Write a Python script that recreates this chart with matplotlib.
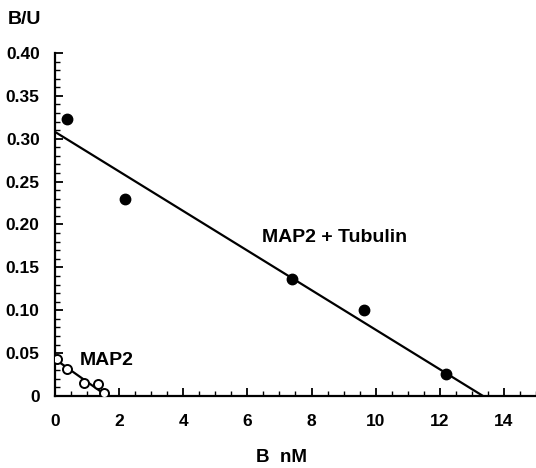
import numpy as np
import matplotlib
matplotlib.use("Agg")
import matplotlib.pyplot as plt
from matplotlib.ticker import MultipleLocator, FixedLocator

plt.rcParams['font.family'] = ['Liberation Sans', 'DejaVu Sans']
plt.rcParams['font.weight'] = 'bold'

# MAP2 + Tubulin (filled circles)
tub_b = [0.37, 2.18, 7.38, 9.63, 12.2]
tub_bu = [0.323, 0.230, 0.136, 0.100, 0.026]
tub_fit_b = [0.0, 13.35]
tub_fit_bu = [0.308, 0.0]

# MAP2 alone (open circles)
map2_b = [0.07, 0.37, 0.9, 1.33, 1.53]
map2_bu = [0.043, 0.031, 0.015, 0.014, 0.004]
map2_fit_b = [0.0, 1.55]
map2_fit_bu = [0.043, 0.002]

x_ticks = [0, 2, 4, 6, 8, 10, 12, 14]
y_ticks = [0, 0.05, 0.10, 0.15, 0.20, 0.25, 0.30, 0.35, 0.40]
y_labels = ['0', '0.05', '0.10', '0.15', '0.20', '0.25', '0.30', '0.35', '0.40']

fig = plt.figure(figsize=(5.36, 4.68), dpi=100)
ax = fig.add_axes([0.1026, 0.1538, 0.8974, 0.733])

ax.plot(tub_fit_b, tub_fit_bu, color='black', lw=1.6, zorder=2)
ax.plot(map2_fit_b, map2_fit_bu, color='black', lw=1.6, zorder=2)
ax.plot(tub_b, tub_bu, 'o', color='black', ms=7.5, zorder=3)
ax.plot(map2_b, map2_bu, 'o', mfc='white', mec='black', mew=1.4, ms=6.5, zorder=3)

ax.set_xlim(0, 15)
ax.set_ylim(0, 0.40)
ax.spines['top'].set_visible(False)
ax.spines['right'].set_visible(False)
ax.spines['left'].set_linewidth(1.6)
ax.spines['bottom'].set_linewidth(1.6)

ax.xaxis.set_major_locator(FixedLocator(x_ticks))
ax.xaxis.set_minor_locator(MultipleLocator(0.5))
ax.yaxis.set_major_locator(FixedLocator(y_ticks))
ax.yaxis.set_minor_locator(MultipleLocator(0.01))
ax.set_yticklabels(y_labels)
ax.tick_params(which='major', direction='in', length=6, width=1.3, labelsize=12.5)
ax.tick_params(which='minor', direction='in', length=3.5, width=1.0)
ax.tick_params(axis='x', which='major', pad=13)
ax.tick_params(axis='y', which='major', pad=11)
for lbl in ax.get_xticklabels() + ax.get_yticklabels():
    lbl.set_fontweight('bold')

ax.text(6.45, 0.185, 'MAP2 + Tubulin', fontsize=14, fontweight='bold', va='center')
ax.text(0.78, 0.042, 'MAP2', fontsize=14, fontweight='bold', va='center')

fig.text(8 / 536, 1 - 20 / 468, 'B/U', fontsize=14, fontweight='bold', va='center')
fig.text(281 / 536, 1 - 457 / 468, 'B  nM', fontsize=13.5, fontweight='bold',
         va='center', ha='center')

fig.savefig('out.png', dpi=100)
